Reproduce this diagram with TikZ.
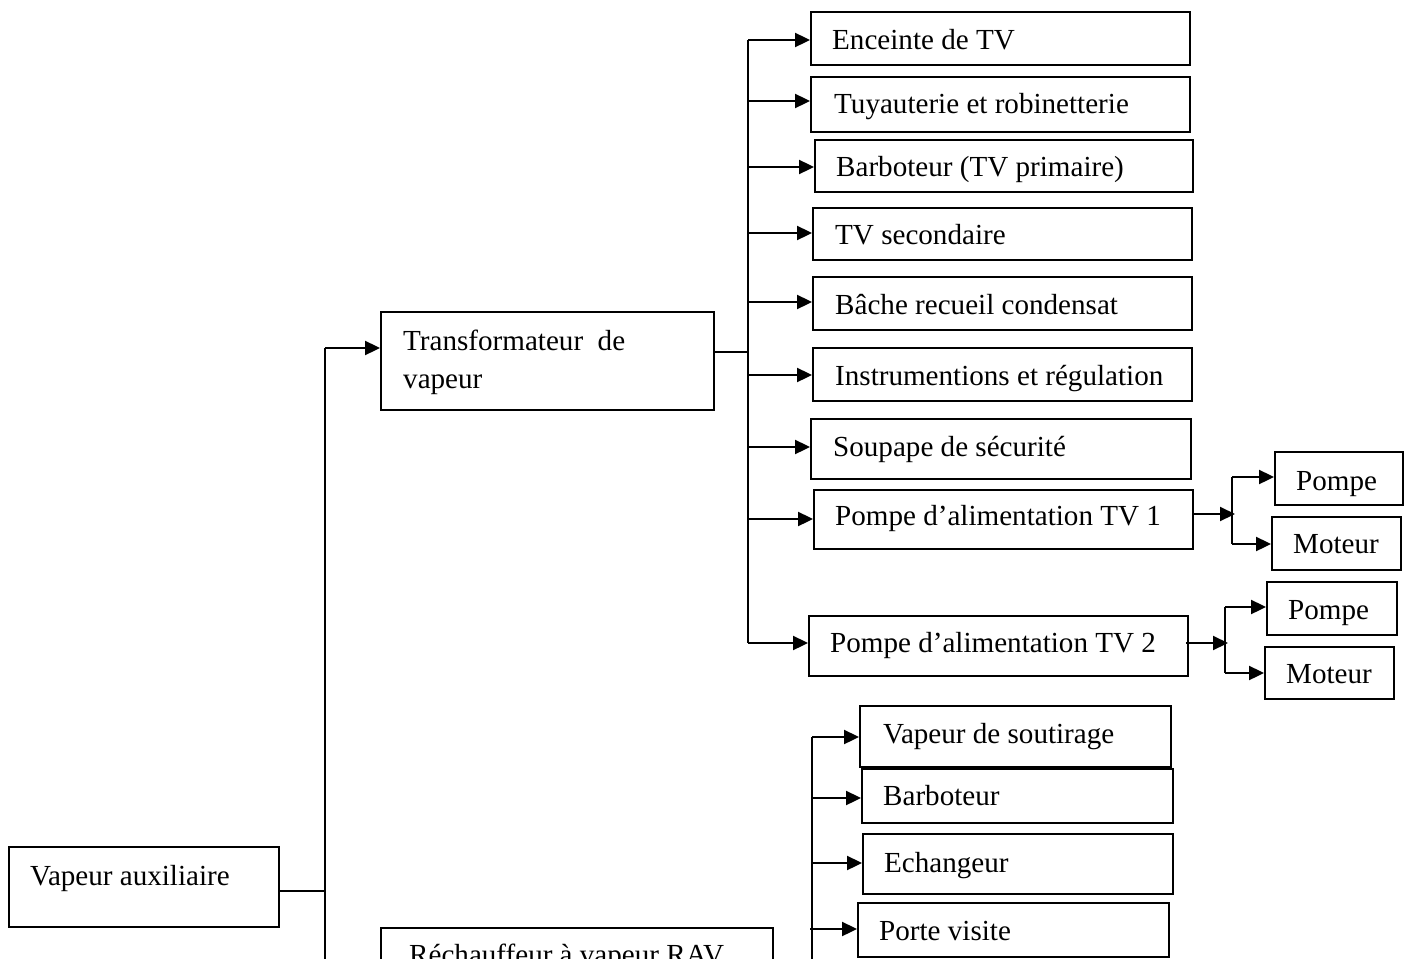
\documentclass[tikz,border=0pt]{standalone}
\usepackage{fontspec}
\setmainfont{Liberation Serif}
\usetikzlibrary{arrows.meta}
\tikzset{
  box/.style={draw, line width=1.9pt, rectangle, inner sep=0pt},
  txt/.style={anchor=base west, inner sep=0pt, font=\fontsize{29.1}{34}\selectfont},
  link/.style={line width=2pt},
  arr/.style={link, -{Triangle[length=15pt,width=14pt]}},
}
% \blk{name}{x1}{y1}{x2}{y2}: framed block between two corners
\newcommand\blk[5]{%
  \node[box, minimum width={(#4-#2)*1pt}, minimum height={(#5-#3)*1pt}]
    (#1) at ({(#2+#4)/2},{(#3+#5)/2}) {};}
\begin{document}
\begin{tikzpicture}[x=1pt,y=-1pt]
\useasboundingbox (0,0) rectangle (1412,958);
\fill[white] (0,0) rectangle (1412,958);
\clip (0,0) rectangle (1412,958);

% ---- blocks ----
\blk{aux}{9}{847}{279}{927}
\blk{tv}{381}{312}{714}{410}
\blk{rav}{381}{928}{773}{1010}

\blk{enc}{811}{12}{1190}{65}
\blk{tuy}{811}{77}{1190}{132}
\blk{barp}{815}{140}{1193}{192}
\blk{tvs}{813}{208}{1192}{260}
\blk{bac}{813}{277}{1192}{330}
\blk{ins}{813}{348}{1192}{401}
\blk{sou}{811}{419}{1191}{479}
\blk{pa1}{814}{490}{1193}{549}
\blk{pa2}{809}{616}{1188}{676}

\blk{pp1}{1275}{452}{1403}{505}
\blk{mo1}{1272}{517}{1401}{570}
\blk{pp2}{1267}{582}{1397}{635}
\blk{mo2}{1265}{647}{1394}{699}

\blk{vso}{860}{706}{1171}{767}
\blk{bar}{862}{769}{1173}{823}
\blk{ech}{863}{834}{1173}{894}
\blk{pov}{858}{903}{1169}{957}

% ---- texts ----
\node[txt] (aux-t) at (30,885) {Vapeur auxiliaire};
\node[txt] (tv-t1) at (403,350) {Transformateur\ \ de};
\node[txt] (tv-t2) at (403,388) {vapeur};
\node[txt] (rav-t) at (409,964) {Réchauffeur à vapeur RAV};

\node[txt] (enc-t) at (832,50) {Enceinte de TV};
\node[txt] (tuy-t) at (834,113) {Tuyauterie et robinetterie};
\node[txt] (barp-t) at (836,176) {Barboteur (TV primaire)};
\node[txt] (tvs-t) at (835,244) {TV secondaire};
\node[txt] (bac-t) at (835,314) {Bâche recueil condensat};
\node[txt] (ins-t) at (835,385) {Instrumentions et régulation};
\node[txt] (sou-t) at (833,456) {Soupape de sécurité};
\node[txt] (pa1-t) at (835,525) {Pompe d’alimentation TV 1};
\node[txt] (pa2-t) at (830,652) {Pompe d’alimentation TV 2};

\node[txt] (pp1-t) at (1296,490) {Pompe};
\node[txt] (mo1-t) at (1293,553) {Moteur};
\node[txt] (pp2-t) at (1288,619) {Pompe};
\node[txt] (mo2-t) at (1286,683) {Moteur};

\node[txt] (vso-t) at (883,743) {Vapeur de soutirage};
\node[txt] (bar-t) at (883,805) {Barboteur};
\node[txt] (ech-t) at (884,872) {Echangeur};
\node[txt] (pov-t) at (879,940) {Porte visite};

% ---- main trunk ----
\coordinate (ja) at (325,348);
\coordinate (jb) at (325,970);
\coordinate (jaux) at (325,891);
\draw[link] (aux.east |- jaux) -- (jaux);
\draw[link] (ja) -- (jb);
\draw[arr] (ja) -- (tv.west |- ja);

% ---- steam transformer branches ----
\coordinate (ka) at (748,40);
\coordinate (kb) at (748,643);
\coordinate (ktv) at (748,352);
\draw[link] (tv.east |- ktv) -- (ktv);
\draw[link] (ka) -- (kb);
\draw[arr] (ka) -- (enc.west |- ka);
\foreach \n/\y in {tuy/101, barp/167, tvs/233, bac/302, ins/375, sou/447, pa1/519}
  \draw[arr] (748,\y) -- (\n.west |- 0,\y);
\draw[arr] (kb) -- (pa2.west |- kb);

% ---- feed pump 1 ----
\coordinate (p1j) at (1232,514);
\coordinate (p1a) at (1232,477);
\coordinate (p1b) at (1232,544);
\draw[arr] (pa1.east |- p1j) -- ([xshift=3pt]p1j);
\draw[link] (p1a) -- (p1b);
\draw[arr] (p1a) -- (pp1.west |- p1a);
\draw[arr] (p1b) -- (mo1.west |- p1b);

% ---- feed pump 2 ----
\coordinate (p2j) at (1225,643);
\coordinate (p2a) at (1225,607);
\coordinate (p2b) at (1225,673);
\draw[arr] ([xshift=-3pt]pa2.east |- p2j) -- ([xshift=3pt]p2j);
\draw[link] (p2a) -- (p2b);
\draw[arr] (p2a) -- (pp2.west |- p2a);
\draw[arr] (p2b) -- (mo2.west |- p2b);

% ---- heater branches ----
\coordinate (ra) at (812,737);
\coordinate (rb) at (812,970);
\draw[link] (ra) -- (rb);
\draw[arr] (ra) -- (vso.west |- ra);
\foreach \n/\y in {bar/798, ech/863}
  \draw[arr] (812,\y) -- (\n.west |- 0,\y);
\draw[arr] (810,929) -- (pov.west |- 0,929);
\end{tikzpicture}
\end{document}
